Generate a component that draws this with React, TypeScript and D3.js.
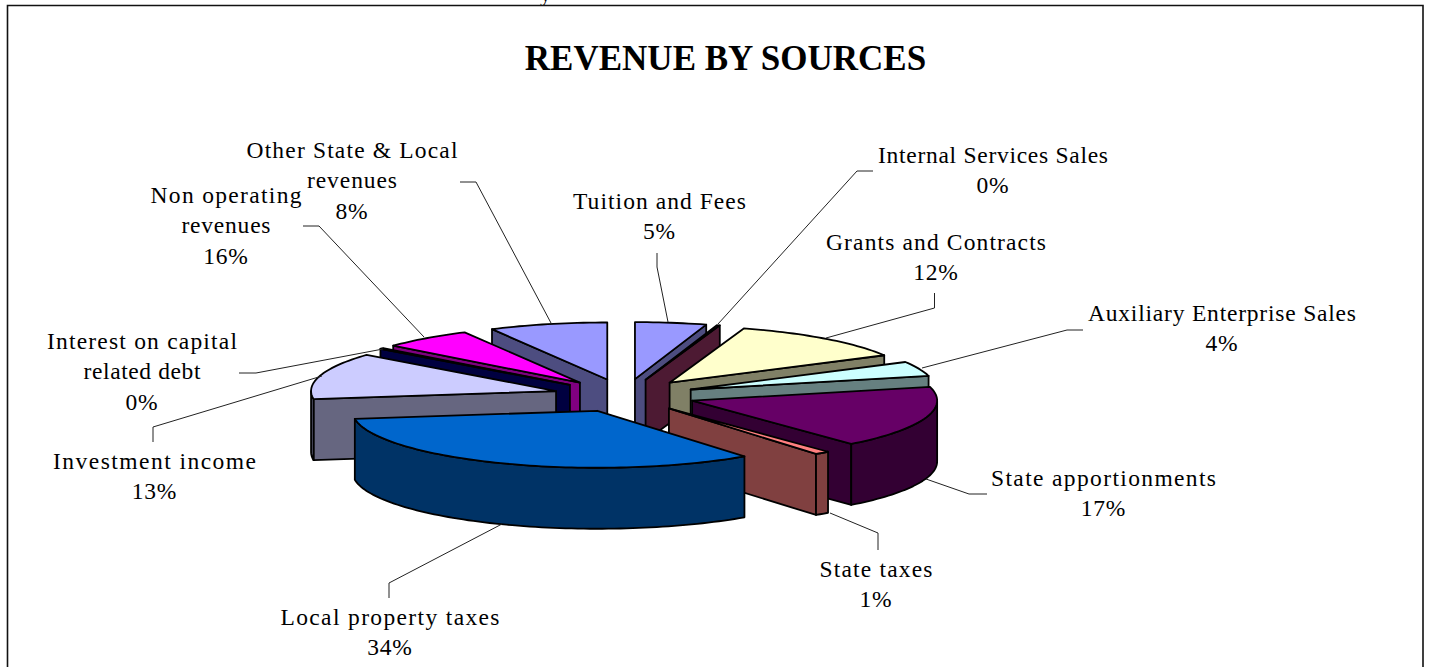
import React from "react";
import * as d3 from "d3";

const categories = [
  "Tuition and Fees", "Internal Services Sales", "Grants and Contracts", "Auxiliary Enterprise Sales",
  "State apportionments", "State taxes", "Local property taxes", "Investment income",
  "Interest on capital related debt", "Non operating revenues", "Other State & Local revenues",
];
// share of the circle each wedge occupies
const wedgeShares = [4.7, 0.2, 12.1, 4.17, 17.6, 1, 33, 13.2, 0.28, 6, 7.8];
// percentages printed in the labels
const percentLabels = ["5%", "0%", "12%", "4%", "17%", "1%", "34%", "13%", "0%", "16%", "8%"];
const labelLines = [
  ["Tuition and Fees"], ["Internal Services Sales"], ["Grants and Contracts"], ["Auxiliary Enterprise Sales"],
  ["State apportionments"], ["State taxes"], ["Local property taxes"], ["Investment income"],
  ["Interest on capital", "related debt"], ["Non operating", "revenues"], ["Other State & Local", "revenues"],
];
const topColors = ["#9999ff", "#993366", "#ffffcc", "#ccffff", "#660066", "#ff8080", "#0066cc", "#ccccff", "#000080", "#ff00ff", "#9999ff"];
const wallColors = ["#4d4d80", "#4d1a33", "#808066", "#668080", "#330033", "#804040", "#003366", "#666680", "#000040", "#800080", "#4d4d80"];

// layout
const labelAnchors: [number, number][] = [
  [659.5, 209], [993, 163], [936, 250], [1222, 321], [1103.5, 486], [876, 577],
  [390, 625], [154.5, 469], [142, 349], [226, 203], [352, 158],
];
const lineWidths = [[173], [230], [220], [268], [225], [113], [219], [203], [190, 117], [151, 89], [211, 90]];
const leaderPaths: [number, number][][] = [
  [[657, 253], [657, 267], [668, 322]],
  [[873, 171], [857, 171], [718, 324]],
  [[934.5, 293], [934.5, 308], [826, 338]],
  [[1083, 330], [1067, 330], [922, 368]],
  [[987, 494], [969, 494], [926, 479]],
  [[878, 550], [878, 533], [830, 513]],
  [[389, 598], [389, 583], [502, 524]],
  [[153, 442], [153, 427], [322, 376]],
  [[239, 373], [256, 373], [383, 349]],
  [[303, 226], [319, 226], [424, 337]],
  [[460, 182], [476, 182], [551, 323]],
];
const CX = 624.5, CY = 395.5, RX = 245, RY = 57, EXPLODE = 0.29, DEPTH = 61;
const FONT = "'Liberation Serif', 'Times New Roman', serif";

type Pt = [number, number];
const line = d3.line<Pt>().x((d) => d[0]).y((d) => d[1]);

const slices = d3.pie<number>().sort(null)(wedgeShares).map((a, i) => {
  const mid = (a.startAngle + a.endAngle) / 2;
  return {
    i, a0: a.startAngle, a1: a.endAngle, mid,
    ax: CX + EXPLODE * RX * Math.sin(mid),
    ay: CY - EXPLODE * RY * Math.cos(mid),
  };
});
const drawOrder = [...slices].sort((p, q) => d3.descending(Math.cos(p.mid), Math.cos(q.mid)));

function rim(s: (typeof slices)[number], from: number, to: number, dy = 0): Pt[] {
  const n = Math.max(2, Math.ceil(Math.abs(to - from) * 40));
  return d3.range(n + 1).map((k) => {
    const t = from + ((to - from) * k) / n;
    return [s.ax + RX * Math.sin(t), s.ay - RY * Math.cos(t) + dy] as Pt;
  });
}

function Slice({ s }: { s: (typeof slices)[number] }) {
  const wall = wallColors[s.i];
  const faces: Pt[][] = [];
  const radial = (t: number): Pt[] => {
    const p = rim(s, t, t)[0];
    return [[s.ax, s.ay], p, [p[0], p[1] + DEPTH], [s.ax, s.ay + DEPTH]];
  };
  if (Math.sin(s.a1) > 0) faces.push(radial(s.a1));
  if (Math.sin(s.a0) < 0) faces.push(radial(s.a0));
  const r0 = Math.max(s.a0, Math.PI / 2), r1 = Math.min(s.a1, (3 * Math.PI) / 2);
  if (r1 > r0) faces.push([...rim(s, r0, r1), ...rim(s, r1, r0, DEPTH)]);
  const top: Pt[] = [[s.ax, s.ay], ...rim(s, s.a0, s.a1)];
  const common = { stroke: "#000", strokeWidth: 1.8, strokeLinejoin: "round" as const };
  return (
    <g>
      {faces.map((f, k) => (
        <path key={k} d={line(f) + "Z"} fill={wall} {...common} />
      ))}
      <path d={line(top) + "Z"} fill={topColors[s.i]} {...common} />
    </g>
  );
}

export default function App() {
  return (
    <svg width={1429} height={667} style={{ position: "absolute", left: 0, top: 0, background: "#fff" }}>
      <text x={540} y={0.5} fontFamily={FONT} fontSize={22}>y</text>
      <path d="M7.5 667V5.5H1423V667" fill="none" stroke="#111" strokeWidth={1.6} />
      <text x={725.5} y={69.5} textAnchor="middle" fontFamily={FONT} fontSize={35} fontWeight={700}>
        REVENUE BY SOURCES
      </text>
      {drawOrder.map((s) => <Slice key={s.i} s={s} />)}
      {leaderPaths.map((p, i) => (
        <path key={i} d={line(p as Pt[]) || ""} fill="none" stroke="#222" strokeWidth={1} />
      ))}
      {categories.map((c, i) => {
        const n = labelLines[i].length;
        return (
          <g key={c} fontFamily={FONT} fontSize={23.5} fill="#000">
            {labelLines[i].map((t, k) => (
              <text key={k} x={labelAnchors[i][0]} y={labelAnchors[i][1] + k * 30.3} textAnchor="middle" textLength={lineWidths[i][k]}>{t}</text>
            ))}
            <text x={labelAnchors[i][0]} y={labelAnchors[i][1] + n * 30.3} textAnchor="middle" letterSpacing={0.8}>{percentLabels[i]}</text>
          </g>
        );
      })}
    </svg>
  );
}
